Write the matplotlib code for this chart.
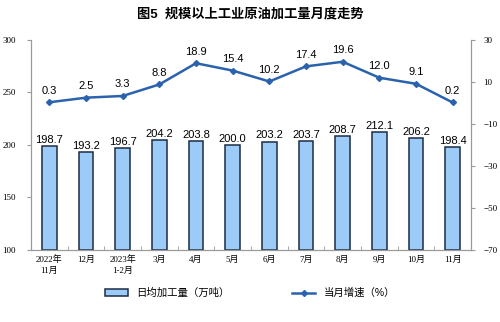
import matplotlib.pyplot as plt
import numpy as np

plt.rcParams['font.family'] = ['Liberation Sans', 'Noto Sans CJK SC']

# ===== data =====
months = ["2022年\n11月", "12月", "2023年\n1-2月", "3月", "4月", "5月",
          "6月", "7月", "8月", "9月", "10月", "11月"]
daily_output = [198.7, 193.2, 196.7, 204.2, 203.8, 200.0,
                203.2, 203.7, 208.7, 212.1, 206.2, 198.4]
growth = [0.3, 2.5, 3.3, 8.8, 18.9, 15.4, 10.2, 17.4, 19.6, 12.0, 9.1, 0.2]

tick_font = ['Liberation Serif', 'Noto Sans CJK SC']
grey = "#9a9a9a"

# ===== plot =====
fig = plt.figure(figsize=(5, 3.22), dpi=100)
ax = fig.add_axes([0.062, 0.224, 0.880, 0.652])
x = np.arange(len(months))

bars = ax.bar(x, np.array(daily_output) - 100, bottom=100, width=0.4,
              color="#9dcbf7", edgecolor="#1c2c44", linewidth=1.1,
              label="日均加工量（万吨）", zorder=2)
for xi, v in zip(x, daily_output):
    ax.text(xi, v + 1, f"{v:.1f}", ha="center", va="bottom", fontsize=8)

ax.set_ylim(100, 300)
ax.set_yticks(range(100, 301, 50))
ax.set_xlim(-0.5, len(months) - 0.5)
ax.set_xticks(x)
ax.set_xticklabels(months, fontsize=6.5, family=tick_font, linespacing=1.4)
ax.set_xticks(np.arange(-0.5, len(months), 1), minor=True)
ax.tick_params(axis="x", which="major", length=0, pad=4)
ax.tick_params(axis="x", which="minor", length=3, color=grey, direction="in")
ax.tick_params(axis="y", length=3, color=grey, labelsize=6.5, pad=8)
for lab in ax.get_yticklabels():
    lab.set_family(tick_font)

ax2 = ax.twinx()
line, = ax2.plot(x, growth, color="#2a62ad", linewidth=1.8, marker="D",
                 markersize=3, label="当月增速（%）", zorder=3)
for xi, v in zip(x, growth):
    ax2.text(xi, v + 3.2, f"{v:.1f}", ha="center", va="bottom", fontsize=8)
ax2.set_ylim(-70, 30)
ax2.set_yticks(range(-70, 31, 20))
ax2.tick_params(axis="y", length=3, color=grey, labelsize=6.5, pad=6)
for lab in ax2.get_yticklabels():
    lab.set_family(tick_font)

for a in (ax, ax2):
    a.spines["top"].set_visible(False)
    for s in ("left", "right", "bottom"):
        a.spines[s].set_color(grey)
        a.spines[s].set_linewidth(0.8)

fig.text(0.5, 0.955, "图5  规模以上工业原油加工量月度走势", ha="center",
         va="center", fontsize=9.5, fontweight="bold")

fig.legend([bars, line], ["日均加工量（万吨）", "当月增速（%）"],
           loc="center", bbox_to_anchor=(0.5, 0.09), ncol=2, frameon=False,
           fontsize=7.5, columnspacing=6, handlelength=2.2, handleheight=0.6)

fig.savefig("out.png", dpi=100)
